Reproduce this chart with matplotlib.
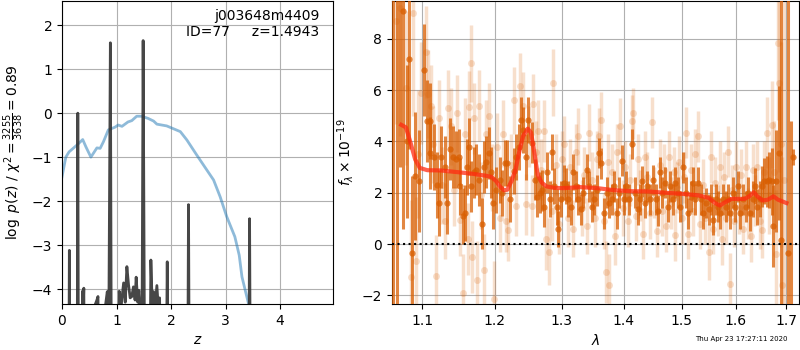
import matplotlib
matplotlib.use('Agg')
import matplotlib.pyplot as plt
from matplotlib.ticker import FixedLocator, FormatStrFormatter, NullLocator

# ---- left panel: redshift PDF ----
pz_z = [0.00, 0.12, 0.135, 0.15, 0.275, 0.29, 0.305, 0.36, 0.375, 0.39, 0.40, 0.42,
        0.58, 0.61, 0.64, 0.66, 0.68, 0.77, 0.80, 0.83, 0.86, 0.887, 0.91,
        1.02, 1.05, 1.07, 1.10, 1.13, 1.16, 1.19, 1.22, 1.25, 1.28, 1.31, 1.34,
        1.36, 1.39, 1.41, 1.44, 1.47, 1.488, 1.51, 1.55, 1.60, 1.63, 1.655, 1.68,
        1.71, 1.74, 1.765, 1.79, 1.82, 1.90, 1.93, 1.96, 2.30, 2.32, 2.34,
        3.42, 3.44, 3.46, 4.90]
pz_logp = [-8, -8, -3.12, -8, -8, 0.0, -8, -8, -4.05, -4.4, -3.98, -8,
           -8, -4.35, -4.25, -4.17, -8, -8, -4.35, -4.06, -4.5, 1.6, -8,
           -8, -4.05, -4.6, -4.2, -3.86, -4.3, -3.49, -3.9, -4.2, -4.17, -3.95, -4.25,
           -3.73, -4.3, -4.03, -4.6, -4.3, 1.65, -4.6, -8, -8, -3.34, -4.4, -4.06,
           -4.4, -3.92, -4.4, -4.2, -8, -8, -3.38, -8, -8, -2.08, -8,
           -8, -2.4, -8, -8]

chi_z = [0.0, 0.07, 0.13, 0.27, 0.38, 0.44, 0.53, 0.64, 0.70, 0.76, 0.85, 0.97,
         1.03, 1.10, 1.21, 1.28, 1.37, 1.46, 1.58, 1.68, 1.74, 1.92, 2.17, 2.29,
         2.47, 2.66, 2.78, 2.90, 3.02, 3.17, 3.25, 3.30, 3.42, 3.50]
chi_val = [-1.45, -1.0, -0.88, -0.73, -0.6, -0.77, -1.0, -0.79, -0.8, -0.65, -0.38, -0.32,
           -0.27, -0.3, -0.2, -0.17, -0.07, -0.07, -0.12, -0.18, -0.25, -0.29, -0.42, -0.61,
           -0.95, -1.3, -1.52, -1.9, -2.35, -2.81, -3.23, -3.72, -4.33, -5.0]

# ---- right panel: spectrum ----
dark_wave = [1.0629, 1.0672, 1.0714, 1.0748, 1.0808, 1.0830, 1.0873, 1.0909, 1.0965,
             1.102, 1.107, 1.110, 1.111, 1.116, 1.120, 1.123, 1.125, 1.130, 1.133, 1.137,
             1.141, 1.145, 1.149, 1.151, 1.155, 1.158, 1.160, 1.163, 1.166, 1.170, 1.173,
             1.177, 1.181, 1.184, 1.187, 1.191, 1.194, 1.197, 1.202, 1.207, 1.210, 1.214,
             1.218, 1.222, 1.227, 1.231, 1.235, 1.238, 1.241, 1.245, 1.249, 1.254, 1.259,
             1.262, 1.266, 1.270, 1.273, 1.277, 1.281, 1.285, 1.288, 1.292, 1.294, 1.298,
             1.303, 1.306, 1.310, 1.314, 1.318, 1.322, 1.326, 1.330, 1.334, 1.339, 1.343,
             1.347, 1.351, 1.355, 1.359, 1.363, 1.367, 1.372, 1.376, 1.380, 1.384, 1.389,
             1.392, 1.396, 1.400, 1.404, 1.409, 1.414, 1.418, 1.423, 1.427, 1.431, 1.436,
             1.440, 1.445, 1.449, 1.454, 1.458, 1.462, 1.466, 1.471, 1.476, 1.480, 1.484,
             1.488, 1.493, 1.497, 1.503, 1.507, 1.512, 1.517, 1.521, 1.525, 1.530, 1.535,
             1.539, 1.544, 1.549, 1.553, 1.558, 1.562, 1.567, 1.571, 1.576, 1.581, 1.586,
             1.590, 1.595, 1.599, 1.604, 1.609, 1.614, 1.619, 1.623, 1.628, 1.633, 1.637,
             1.642, 1.647, 1.652, 1.656, 1.661, 1.666, 1.671, 1.674, 1.680, 1.686, 1.690,
             1.703, 1.709, 1.714]
dark_flux = [-5.0, -5.0, 10.0, 9.1, 4.0, 7.2, -0.35, 2.65, 2.45,
             6.8, 4.8, 4.8, 3.55, 3.4, 2.3, 1.6, 3.4, 3.0, 1.6, 3.7,
             3.4, 3.3, 3.4, 2.25, 1.1, 1.2, 3.0, 3.8, 2.25, 2.8, 2.9,
             2.5, 0.8, 3.0, 3.2, 3.55, 2.8, 1.6, 2.1, 2.5, 2.0, 3.15,
             3.15, 1.75, 2.85, 3.4, 3.8, 4.85, 4.45, 3.4, 4.85, 3.95, 2.5,
             1.85, 2.0, 2.1, 1.45, 2.8, 1.75, 3.6, 2.25, 1.45, 0.6, 1.75,
             2.4, 2.25, 1.75, 1.45, 2.8, 2.25, 1.75, 1.35, 2.0, 2.9, 2.25,
             1.45, 1.75, 2.1, 3.55, 3.15, 1.2, 2.0, 1.6, 1.75, 2.25, 1.2,
             2.0, 3.25, 1.75, 2.25, 1.75, 3.9, 2.0, 1.35, 1.75, 2.45, 1.6,
             2.25, 1.75, 2.5, 1.75, 1.3, 2.8, 2.0, 2.4, 1.45, 2.25, 1.75,
             2.4, 2.0, 1.45, 3.0, 2.0, 1.2, 1.85, 2.4, 1.75, 2.4, 1.75,
             1.2, 1.6, 1.35, 1.75, 0.95, 1.75, 1.45, 1.2, 1.75, 1.45, 1.75,
             1.2, 2.0, 1.45, 2.25, 1.2, 1.75, 1.45, 2.0, 1.2, 1.75, 2.25,
             1.45, 1.75, 2.25, 2.45, 2.45, 2.5, 2.45, 0.7, 2.45, 3.55, 0.15,
             -0.35, -3.0, 3.4]
dark_err = [25, 25, 7.0, 8.5, 3.0, 3.5, 3.0, 2.5, 2.0,
            1.8, 1.6, 1.5, 1.4, 1.3, 1.3, 1.3, 1.2, 1.2, 1.2, 1.2,
            1.2, 1.1, 1.1, 1.1, 1.1, 1.1, 1.1, 1.1, 1.0, 1.0, 1.0,
            1.0, 1.0, 1.0, 1.0, 1.0, 1.0, 1.0, 0.9, 0.9, 0.9, 0.9,
            0.9, 0.9, 0.9, 0.9, 0.9, 0.9, 0.9, 0.9, 0.9, 0.8, 0.8,
            0.8, 0.8, 0.8, 0.8, 0.8, 0.7, 0.7, 0.7, 0.7, 0.7, 0.7,
            0.7, 0.7, 0.7, 0.7, 0.7, 0.6, 0.6, 0.6, 0.6, 0.6, 0.6,
            0.6, 0.6, 0.6, 0.6, 0.6, 0.6, 0.6, 0.6, 0.6, 0.6, 0.6,
            0.6, 0.6, 0.6, 0.6, 0.6, 0.6, 0.6, 0.6, 0.6, 0.6, 0.6,
            0.6, 0.6, 0.6, 0.6, 0.6, 0.6, 0.6, 0.6, 0.6, 0.6, 0.6,
            0.6, 0.6, 0.6, 0.6, 0.6, 0.6, 0.6, 0.6, 0.6, 0.6, 0.6,
            0.6, 0.6, 0.6, 0.6, 0.6, 0.6, 0.6, 0.6, 0.6, 0.6, 0.6,
            0.6, 0.6, 0.6, 0.6, 0.6, 0.6, 0.6, 0.6, 0.7, 0.7, 0.7,
            0.7, 0.7, 0.8, 0.9, 1.0, 1.1, 1.3, 1.6, 2.0, 2.6, 12.0,
            12.0, 7.8, 0.3]

light_wave = [1.066, 1.072, 1.079, 1.085, 1.088, 1.092, 1.095, 1.098,
              1.105, 1.108, 1.112, 1.115, 1.119, 1.122, 1.127, 1.131, 1.135, 1.139,
              1.143, 1.147, 1.151, 1.155, 1.158, 1.162, 1.164, 1.166, 1.168, 1.171,
              1.174, 1.177, 1.180, 1.184, 1.188, 1.192, 1.196, 1.199, 1.203, 1.207,
              1.211, 1.216, 1.219, 1.223, 1.227, 1.231, 1.236, 1.241, 1.246, 1.250,
              1.254, 1.256, 1.260, 1.264, 1.268, 1.272, 1.276, 1.280, 1.284, 1.287,
              1.291, 1.296, 1.300, 1.304, 1.309, 1.313, 1.318, 1.322, 1.326, 1.331,
              1.335, 1.340, 1.343, 1.348, 1.352, 1.356, 1.359, 1.363, 1.367, 1.370,
              1.374, 1.376, 1.380, 1.385, 1.389, 1.394, 1.398, 1.402, 1.407, 1.411,
              1.414, 1.416, 1.420, 1.424, 1.428, 1.432, 1.436, 1.440, 1.444, 1.448,
              1.452, 1.456, 1.461, 1.465, 1.469, 1.473, 1.477, 1.481, 1.486, 1.488,
              1.492, 1.496, 1.500, 1.504, 1.507, 1.511, 1.516, 1.520, 1.525, 1.530,
              1.534, 1.538, 1.543, 1.549, 1.553, 1.557, 1.561, 1.566, 1.570, 1.574,
              1.578, 1.582, 1.586, 1.589, 1.593, 1.597, 1.601, 1.606, 1.610, 1.614,
              1.619, 1.624, 1.629, 1.633, 1.638, 1.642, 1.647, 1.652, 1.656, 1.661,
              1.665, 1.671, 1.676, 1.680, 1.684, 1.686, 1.689, 1.692, 1.696]
light_flux = [8.7, 9.2, 6.1, -1.3, 9.0, -0.65, 3.5, 5.9,
              7.5, 5.85, 5.4, 3.9, -1.25, 4.9, 2.3, 0.9, 5.3, 4.6,
              2.1, 5.1, 0.95, -1.9, 4.3, 0.2, 5.35, 7.05, -0.5, 4.9,
              -1.4, 5.4, 1.9, -1.0, 4.3, 5.0, 2.6, -2.15, 3.8, 1.0,
              4.3, 0.9, 0.55, 3.1, 5.6, 1.5, 6.15, 5.4, 1.55, 4.2,
              1.5, 5.45, 3.6, 4.4, 2.9, 4.4, 0.2, -0.3, 1.3, 6.3,
              3.1, 0.8, 3.3, 3.9, 1.0, 3.0, 0.6, 3.6, 4.2, 1.4,
              2.7, 0.7, 4.35, 2.5, 1.0, 3.3, 4.2, 4.85, 0.9, -1.1,
              3.2, -1.6, 2.8, 0.3, 3.6, 4.6, 1.4, 3.0, 0.9, 2.5,
              4.8, 5.1, 1.1, 3.3, 1.9, 0.4, 3.4, 2.6, 1.2, 4.75,
              2.0, 0.5, 3.1, 1.3, 2.9, 0.7, 3.4, 1.6, 2.8, 0.35,
              2.2, 3.2, 1.0, 2.6, 4.35, 0.4, 2.9, 1.3, 3.5, 4.2,
              0.8, 2.3, 1.0, -0.3, 3.4, 0.6, 2.4, 1.3, 3.0, 0.2,
              2.6, 1.0, 3.6, -1.55, 2.1, 0.9, 3.0, 1.4, 2.7, 0.6,
              3.0, 1.2, 0.3, 2.9, 1.7, 3.0, 0.9, 0.55, 2.8, 4.35,
              1.9, 4.65, 2.8, -0.4, 7.85, 6.3, 3.9, -1.6, 2.5]
light_err = [4.0, 5.0, 3.0, 3.0, 4.0, 2.5, 2.5, 2.0,
             1.8, 1.7, 1.6, 1.5, 1.6, 1.5, 1.5, 1.5, 1.5, 1.5,
             1.4, 1.5, 1.4, 1.5, 1.4, 1.4, 1.4, 1.5, 1.4, 1.4,
             1.5, 1.4, 1.3, 1.4, 1.3, 1.3, 1.3, 1.5, 1.3, 1.3,
             1.3, 1.2, 1.2, 1.2, 1.3, 1.2, 1.3, 1.3, 1.2, 1.2,
             1.2, 1.2, 1.2, 1.2, 1.2, 1.2, 1.2, 1.3, 1.2, 1.3,
             1.2, 1.2, 1.1, 1.1, 1.1, 1.1, 1.1, 1.1, 1.1, 1.1,
             1.1, 1.1, 1.1, 1.1, 1.1, 1.1, 1.1, 1.1, 1.1, 1.2,
             1.1, 1.2, 1.1, 1.1, 1.1, 1.1, 1.1, 1.0, 1.0, 1.0,
             1.0, 1.0, 1.0, 1.0, 1.0, 1.0, 1.0, 1.0, 1.0, 1.0,
             1.0, 1.0, 1.0, 1.0, 1.0, 1.0, 1.0, 1.0, 1.0, 1.0,
             1.0, 1.0, 1.0, 1.0, 1.0, 1.0, 1.0, 1.0, 1.0, 1.0,
             1.0, 1.0, 1.0, 1.1, 1.0, 1.0, 1.0, 1.0, 1.0, 1.0,
             1.0, 1.0, 1.0, 1.2, 1.0, 1.0, 1.0, 1.0, 1.0, 1.0,
             1.0, 1.0, 1.0, 1.0, 1.0, 1.0, 1.1, 1.1, 1.2, 1.4,
             1.5, 1.7, 2.0, 2.5, 3.0, 3.5, 4.0, 5.0, 8.0]

model_wave = [1.073, 1.079, 1.085, 1.091, 1.097, 1.107, 1.125, 1.149, 1.168, 1.186,
              1.195, 1.202, 1.207, 1.213, 1.218, 1.224, 1.230, 1.235, 1.241, 1.248,
              1.253, 1.258, 1.263, 1.269, 1.276, 1.288, 1.303, 1.329, 1.356, 1.384,
              1.412, 1.442, 1.471, 1.500, 1.530, 1.549, 1.561, 1.570, 1.580, 1.592,
              1.604, 1.617, 1.626, 1.635, 1.642, 1.652, 1.663, 1.674, 1.683, 1.700]
model_flux = [4.65, 4.55, 3.95, 3.3, 2.97, 2.88, 2.87, 2.8, 2.74, 2.67,
              2.62, 2.45, 2.25, 2.1, 2.12, 2.45, 2.9, 3.55, 4.2, 4.5,
              4.35, 3.55, 2.7, 2.4, 2.25, 2.19, 2.18, 2.22, 2.18, 2.1,
              2.06, 2.05, 2.0, 1.96, 1.9, 1.8, 1.6, 1.5, 1.63, 1.76,
              1.76, 1.76, 1.86, 2.02, 1.86, 1.7, 1.73, 1.86, 1.73, 1.6]

lam_ticks = [1.1, 1.2, 1.3, 1.4, 1.5, 1.6, 1.7]

orange = '#d95f02'

fig = plt.figure(figsize=(8, 3.5), dpi=100)
ax1 = fig.add_axes([0.0775, 0.1314, 0.33875, 0.8657])
ax2 = fig.add_axes([0.49, 0.1314, 0.50875, 0.8657])

# left: p(z)
ax1.plot(chi_z, chi_val, color='C0', alpha=0.5, lw=2)
ax1.plot(pz_z, pz_logp, color='#333333', alpha=0.9, lw=2)
ax1.set_xlim(0, 4.97)
ax1.set_ylim(-4.34, 2.55)
ax1.set_xticks([0, 1, 2, 3, 4])
ax1.set_yticks([-4, -3, -2, -1, 0, 1, 2])
ax1.grid(True)
ax1.set_xlabel('$z$')
ax1.set_ylabel(r'$\log\ p(z)$ / $\chi^2=\frac{3255}{3638}=0.89$')
ax1.text(0.95, 0.975, 'j003648m4409\nID=77     z=1.4943', transform=ax1.transAxes,
         ha='right', va='top', fontsize=10)

# right: spectrum
ax2.errorbar(light_wave, light_flux, yerr=light_err, fmt='o', color=orange, alpha=0.2,
             ms=5, elinewidth=2.5, mec='none', zorder=2)
ax2.errorbar(dark_wave, dark_flux, yerr=dark_err, fmt='o', color=orange, alpha=0.75,
             ms=4.5, elinewidth=2.2, mec='none', zorder=3)
ax2.plot(model_wave, model_flux, color='#ff2a10', alpha=0.75, lw=3, zorder=4)
ax2.axhline(0, color='k', ls=':', lw=1.5, zorder=5)
ax2.set_xscale('log')
ax2.set_xlim(1.0612, 1.7258)
ax2.xaxis.set_major_locator(FixedLocator(lam_ticks))
ax2.xaxis.set_major_formatter(FormatStrFormatter('%.1f'))
ax2.xaxis.set_minor_locator(NullLocator())
ax2.set_ylim(-2.34, 9.48)
ax2.set_yticks([-2, 0, 2, 4, 6, 8])
ax2.grid(True)
ax2.set_xlabel(r'$\lambda$')
ax2.set_ylabel(r'$f_\lambda\times10^{-19}$')

fig.text(0.985, 0.022, 'Thu Apr 23 17:27:11 2020', ha='right', va='bottom', fontsize=5)

fig.savefig('out.png', dpi=100)
